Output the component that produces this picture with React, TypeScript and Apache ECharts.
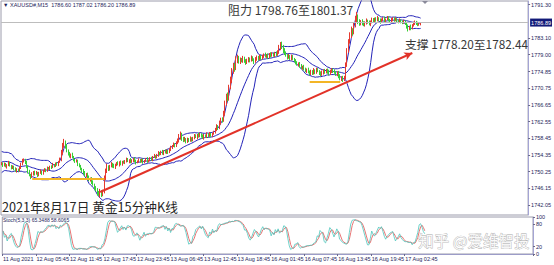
import React, { useEffect, useRef } from "react";
import * as echarts from "echarts";

// ---- data (XAUUSD M15, 11–17 Aug 2021) ----
const PRE_CLOSES = [1750.2, 1750.8, 1751.5, 1752.6, 1753.4, 1754.1, 1753.6, 1754.5, 1755.0, 1754.2, 1753.5, 1752.8, 1753.3, 1752.5, 1751.7, 1752.2, 1751.4, 1750.9, 1751.6];
const FIRST_OPEN = 1752.0;
const CLOSES = [
  1752.3, 1751.8, 1752.1, 1751.5, 1751.9, 1752.4, 1751.7, 1751.2, 1751.5,
  1750.9, 1750.4, 1750.8, 1750.5, 1751.2,
  1752.0, 1752.9, 1753.2, 1752.6,
  1751.5, 1750.3, 1749.4, 1749.0, 1749.6,
  1750.2, 1749.7, 1750.0, 1749.4, 1749.9, 1750.3, 1749.8, 1750.4,
  1750.8, 1750.5, 1751.1, 1750.9, 1751.5, 1751.3, 1751.9, 1751.6, 1752.2, 1752.0, 1752.6, 1753.1,
  1754.8, 1756.6, 1757.4, 1756.5, 1755.4,
  1754.6, 1754.0, 1754.5, 1753.8,
  1753.2, 1752.7, 1752.9, 1752.1, 1751.6, 1751.0, 1750.6,
  1750.0, 1749.3, 1749.7, 1748.8, 1748.2, 1748.6, 1747.7, 1747.1, 1746.4, 1745.8,
  1745.2, 1744.8, 1745.5, 1744.6, 1745.2,
  1748.6, 1750.5, 1751.4, 1750.9,
  1751.6, 1752.2, 1751.7, 1751.3, 1751.9, 1752.4, 1752.0, 1752.5, 1752.1, 1752.7,
  1752.4, 1752.9, 1753.3, 1752.8, 1753.1, 1752.6, 1753.0, 1753.4, 1752.9, 1752.5, 1752.8, 1753.2,
  1752.7, 1753.1, 1752.6, 1752.9, 1753.3, 1752.8, 1753.0, 1753.5, 1753.2, 1753.8, 1754.1, 1753.7,
  1754.3, 1754.9, 1754.5, 1755.1, 1754.7, 1755.3, 1754.9, 1755.4, 1755.0, 1755.6, 1756.1,
  1756.5, 1757.0, 1756.6, 1757.2, 1757.8,
  1758.6, 1759.4, 1758.5, 1757.9, 1758.3, 1757.7, 1758.2, 1757.8, 1758.4, 1758.0,
  1758.6, 1759.1, 1758.7, 1759.3, 1758.9, 1759.5, 1759.0, 1758.6, 1759.2, 1758.8, 1759.4, 1759.0, 1759.6, 1759.1, 1759.5, 1759.9,
  1760.6, 1761.4, 1761.0, 1762.2, 1763.1, 1762.8, 1764.5,
  1766.9, 1768.8, 1768.2, 1770.9, 1772.6,
  1774.8, 1776.3, 1775.6, 1777.4, 1778.2,
  1777.2, 1777.9, 1777.4, 1778.1, 1777.6, 1777.0, 1777.5, 1778.0, 1777.6, 1778.2, 1777.8, 1777.3, 1777.9, 1778.4, 1778.0, 1778.5, 1778.1,
  1778.6, 1779.0, 1778.5, 1778.9, 1778.4, 1779.1, 1778.7, 1779.2, 1778.8, 1779.3, 1778.9, 1779.5,
  1780.6, 1781.5, 1781.0, 1780.1, 1779.4,
  1778.9, 1778.3, 1778.7, 1778.1, 1778.6, 1778.0, 1777.6,
  1777.0, 1776.6, 1776.9, 1776.2, 1775.8, 1776.1, 1775.5, 1775.0, 1775.4, 1774.8, 1774.5,
  1774.9, 1774.4, 1775.2, 1774.7, 1775.4, 1775.0, 1774.5, 1774.1, 1774.6, 1775.1, 1774.7, 1775.3, 1774.8, 1774.3, 1774.9, 1775.4, 1775.0, 1774.6, 1774.2, 1774.7,
  1773.8, 1773.2, 1773.5, 1772.9, 1773.4,
  1776.5, 1779.8, 1782.1, 1783.6,
  1784.9, 1784.4, 1786.2, 1787.6, 1788.4, 1787.3,
  1786.6, 1787.2, 1786.8, 1786.3, 1786.9, 1787.4, 1787.0, 1786.5, 1787.1, 1787.6, 1787.2,
  1787.8, 1787.4, 1788.0, 1787.6, 1787.1, 1787.5, 1787.9, 1787.3, 1787.7, 1788.1, 1787.6, 1787.2, 1787.6, 1787.9,
  1787.4, 1787.8, 1787.3, 1787.0, 1787.5, 1787.1, 1786.8, 1787.2, 1786.7,
  1786.0, 1785.4, 1785.9, 1785.5, 1786.2,
  1786.7, 1787.1, 1786.8, 1786.4, 1786.6, 1786.89,
];
// upper / lower wick lengths, tenths of a dollar
const UP_WICK = [
  3, 2, 4, 3, 2, 5, 3, 2, 3, 2, 4, 3, 2, 3, 4, 5, 3, 2, 3, 2, 4, 3, 5,
  2, 3, 4, 2, 3, 5, 2, 3, 3, 2, 4, 3, 2, 3, 5, 2, 3, 4, 3, 6,
  8, 7, 9, 5, 4, 3, 5, 2, 4, 3, 2, 4, 3, 2, 3, 2,
  3, 4, 2, 3, 5, 2, 3, 4, 2, 3, 4, 3, 5, 2, 6, 7, 5, 8, 4,
  3, 4, 2, 5, 3, 2, 4, 3, 5, 2, 3, 2, 4, 3, 2, 5, 3, 2, 4, 3, 2, 3,
  2, 3, 4, 2, 3, 5, 2, 3, 4, 3, 5, 2, 3, 4, 2, 3, 5, 2, 4, 3, 2, 4, 5,
  3, 4, 2, 5, 6, 9, 7, 4, 3, 5, 2, 4, 3, 5, 3,
  2, 4, 3, 2, 5, 3, 2, 4, 3, 2, 5, 3, 4, 2, 3, 4,
  4, 5, 3, 6, 4, 5, 7, 8, 6, 9, 7, 10, 9, 7, 6, 12, 8,
  5, 4, 3, 6, 4, 3, 5, 4, 3, 6, 4, 3, 5, 4, 3, 5, 4,
  4, 3, 5, 2, 4, 3, 5, 4, 3, 4, 5, 6, 8, 6, 7, 4, 5,
  4, 3, 5, 2, 4, 3, 2, 3, 4, 2, 3, 5, 2, 4, 3, 2, 4, 3,
  4, 3, 5, 2, 4, 3, 2, 4, 5, 3, 4, 2, 3, 5, 4, 3, 2, 4, 3, 2,
  3, 4, 2, 3, 4, 6, 8, 7, 9, 10, 6, 8, 9, 11, 5,
  4, 3, 5, 4, 3, 5, 2, 4, 3, 5, 4, 3, 4, 5, 2, 3, 4, 3, 5, 2, 4, 3, 2, 4, 3,
  3, 4, 2, 3, 4, 2, 3, 4, 2, 3, 4, 2, 5, 3, 4, 3, 2, 3, 4, 1,
];
const DOWN_WICK = [
  2, 4, 3, 2, 5, 3, 2, 4, 3, 3, 2, 4, 3, 2, 3, 2, 4, 5, 4, 5, 3, 6, 3,
  3, 4, 2, 5, 3, 2, 4, 3, 2, 4, 3, 2, 3, 4, 2, 3, 2, 3, 4, 2,
  3, 4, 5, 6, 4, 4, 3, 5, 2, 4, 3, 2, 5, 3, 4, 5,
  4, 3, 5, 6, 3, 4, 5, 3, 6, 4, 8, 5, 9, 6, 4, 3, 4, 6, 5,
  4, 3, 5, 2, 4, 3, 2, 5, 3, 4, 2, 3, 4, 2, 5, 3, 2, 4, 3, 5, 2, 3,
  3, 2, 4, 3, 2, 4, 3, 2, 3, 4, 2, 3, 2, 4, 3, 2, 3, 4, 2, 3, 4, 2, 3,
  3, 2, 4, 3, 2, 4, 5, 7, 4, 3, 5, 4, 3, 2, 4,
  3, 4, 2, 5, 3, 2, 4, 3, 5, 2, 3, 4, 2, 3, 4, 2,
  3, 4, 5, 3, 4, 5, 3, 5, 4, 7, 5, 4, 6, 5, 8, 4, 5,
  4, 5, 3, 4, 6, 5, 3, 4, 5, 3, 4, 6, 3, 4, 5, 3, 4,
  3, 4, 2, 3, 5, 3, 4, 2, 3, 4, 3, 2, 3, 5, 6, 7, 5,
  4, 5, 3, 4, 5, 3, 4, 4, 3, 5, 4, 3, 5, 4, 3, 5, 4, 6,
  5, 4, 3, 5, 4, 3, 5, 4, 3, 5, 4, 3, 5, 4, 3, 4, 5, 3, 4, 5,
  6, 5, 7, 6, 4, 4, 5, 3, 4, 5, 7, 4, 5, 6, 8,
  5, 4, 6, 3, 4, 5, 4, 3, 5, 4, 3, 4, 3, 2, 4, 5, 3, 2, 4, 3, 2, 4, 3, 2, 4,
  3, 2, 4, 3, 2, 4, 3, 2, 4, 6, 7, 4, 5, 3, 3, 4, 5, 4, 3, 4,
];
const TOTAL_SLOTS = 380; // visible bar slots incl. empty right margin
const LABEL_STEP = 24;
const TIME_LABELS = [
  "11 Aug 2021", "12 Aug 05:45", "12 Aug 11:45", "12 Aug 17:45", "12 Aug 23:45",
  "13 Aug 06:45", "13 Aug 12:45", "13 Aug 18:45", "16 Aug 01:45", "16 Aug 07:45",
  "16 Aug 13:45", "16 Aug 19:45", "17 Aug 02:45",
];
const PRICE_TICKS = [1791.3, 1783.1, 1779.0, 1774.85, 1770.75, 1766.65, 1762.55, 1758.45, 1754.35, 1750.25, 1746.15, 1742.05];
const PRICE_MIN = 1739.59;
const PRICE_MAX = 1792.19;
const STOCH_TICKS = [0, 20, 80, 100];
const LAST_PRICE = 1786.89;
const TREND_LINE: [number, number][] = [[71, 1745.25], [296, 1779.41]];
const LEVEL_LINES: [number, number, number][] = [[22, 74, 1748.44], [222, 244, 1772.28]];
const HEADER = "▼ XAUUSD#,M15  1786.60 1787.02 1786.20 1786.89";
const STOCH_TITLE = "Stoch(5,3,3) 65.3488 58.6065";
const RESIST_TEXT = "阻力 1798.76至1801.37";
const SUPPORT_TEXT = "支撑 1778.20至1782.44";
const TITLE_TEXT = "2021年8月17日 黄金15分钟K线";
const WATERMARK = "知乎 @爱维智投";

function buildOhlc() {
  const rows: number[][] = [];
  const highs: number[] = [];
  const lows: number[] = [];
  for (let i = 0; i < CLOSES.length; i++) {
    const o = i === 0 ? FIRST_OPEN : CLOSES[i - 1];
    const c = CLOSES[i];
    const h = +(Math.max(o, c) + (UP_WICK[i] ?? 3) / 10).toFixed(2);
    const l = +(Math.min(o, c) - (DOWN_WICK[i] ?? 3) / 10).toFixed(2);
    rows.push([o, c, l, h]);
    highs.push(h);
    lows.push(l);
  }
  return { rows, highs, lows };
}

function bands(period: number, k: number) {
  const all = [...PRE_CLOSES, ...CLOSES];
  const off = PRE_CLOSES.length;
  const up: number[] = [], mid: number[] = [], lo: number[] = [];
  for (let i = 0; i < CLOSES.length; i++) {
    const end = i + off;
    const start = Math.max(0, end - period + 1);
    const w = all.slice(start, end + 1);
    const m = w.reduce((a, b) => a + b, 0) / w.length;
    const sd = Math.sqrt(w.reduce((a, b) => a + (b - m) * (b - m), 0) / w.length);
    mid.push(+m.toFixed(3));
    up.push(+(m + k * sd).toFixed(3));
    lo.push(+(m - k * sd).toFixed(3));
  }
  return { up, mid, lo };
}

function stoch(highs: number[], lows: number[], kp: number, slow: number, dp: number) {
  const n = CLOSES.length;
  const num: number[] = [], den: number[] = [];
  for (let i = 0; i < n; i++) {
    const s = Math.max(0, i - kp + 1);
    let hh = -Infinity, ll = Infinity;
    for (let j = s; j <= i; j++) { hh = Math.max(hh, highs[j]); ll = Math.min(ll, lows[j]); }
    num.push(CLOSES[i] - ll);
    den.push(hh - ll);
  }
  const main: number[] = [];
  for (let i = 0; i < n; i++) {
    const s = Math.max(0, i - slow + 1);
    let a = 0, b = 0;
    for (let j = s; j <= i; j++) { a += num[j]; b += den[j]; }
    main.push(b > 0 ? +(100 * a / b).toFixed(2) : 50);
  }
  const sig: number[] = [];
  for (let i = 0; i < n; i++) {
    const s = Math.max(0, i - dp + 1);
    let a = 0;
    for (let j = s; j <= i; j++) a += main[j];
    sig.push(+(a / (i - s + 1)).toFixed(2));
  }
  return { main, sig };
}

export default function App() {
  const ref = useRef<HTMLDivElement>(null);
  useEffect(() => {
    if (!ref.current) return;
    const chart = echarts.init(ref.current, undefined, { renderer: "svg" });
    const { rows, highs, lows } = buildOhlc();
    const bb = bands(20, 2);
    const st = stoch(highs, lows, 5, 3, 3);
    const slots = Array.from({ length: TOTAL_SLOTS }, (_, i) => String(i));
    const isLabel = (i: number) => i % LABEL_STEP === 0 && i / LABEL_STEP < TIME_LABELS.length;
    const small = { fontSize: 5.5, color: "#1e1e5a", fontFamily: "Liberation Sans" };
    const bandLine = (data: number[]) => ({
      type: "line", data, xAxisIndex: 0, yAxisIndex: 0, symbol: "none", silent: true,
      lineStyle: { color: "#2323b8", width: 1 }, z: 3,
    });

    chart.setOption({
      animation: false,
      backgroundColor: "#ffffff",
      grid: [
        { left: 1, right: 21, top: 1, height: 214, show: true, borderColor: "#9c9cac", borderWidth: 1 },
        { left: 1, right: 21, top: 217, height: 37, show: true, borderColor: "#9c9cac", borderWidth: 1 },
      ],
      xAxis: [
        {
          type: "category", gridIndex: 0, data: slots, boundaryGap: true,
          axisLine: { show: false }, axisTick: { show: false }, axisLabel: { show: false }, splitLine: { show: false },
        },
        {
          type: "category", gridIndex: 1, data: slots, boundaryGap: true,
          axisLine: { show: true, lineStyle: { color: "#9c9cc8" } },
          axisTick: { show: true, interval: (i: number) => isLabel(i), length: 2, lineStyle: { color: "#6a6a8a" } },
          axisLabel: {
            ...small, interval: (i: number) => isLabel(i), align: "left", margin: 2,
            formatter: (_v: string, i: number) => TIME_LABELS[i / LABEL_STEP] ?? "",
          },
          splitLine: { show: false },
        },
      ],
      yAxis: [
        {
          type: "value", gridIndex: 0, position: "right", min: PRICE_MIN, max: PRICE_MAX, scale: true,
          axisLine: { show: true, lineStyle: { color: "#a4a4d4" } },
          axisTick: { show: true, customValues: PRICE_TICKS, length: 2, lineStyle: { color: "#6a6a8a" } },
          axisLabel: { ...small, customValues: PRICE_TICKS, margin: 3, formatter: (v: number) => v.toFixed(2) },
          splitLine: { show: false },
        },
        {
          type: "value", gridIndex: 1, position: "right", min: 0, max: 100,
          axisLine: { show: true, lineStyle: { color: "#a4a4d4" } },
          axisTick: { show: true, customValues: STOCH_TICKS, length: 2, lineStyle: { color: "#6a6a8a" } },
          axisLabel: { ...small, customValues: STOCH_TICKS, margin: 3 },
          splitLine: { show: false },
        },
      ],
      series: [
        bandLine(bb.up),
        bandLine(bb.mid),
        bandLine(bb.lo),
        {
          type: "candlestick", data: rows, xAxisIndex: 0, yAxisIndex: 0, barWidth: 0.6, z: 4,
          itemStyle: { color: "#e53a30", color0: "#36d036", borderColor: "#e53a30", borderColor0: "#36d036", borderWidth: 1 },
          markLine: {
            silent: true, symbol: "none", animation: false,
            data: [
              {
                yAxis: LAST_PRICE, symbol: "none",
                lineStyle: { color: "#bdbdbd", width: 1, type: "solid" },
                label: {
                  show: true, position: "end", formatter: LAST_PRICE.toFixed(2), distance: 2,
                  color: "#ffffff", backgroundColor: "#121a78", fontSize: 5.5, padding: [1, 1, 1, 1],
                  fontFamily: "Liberation Sans",
                },
              },
              [
                { coord: TREND_LINE[0], symbol: "none", lineStyle: { color: "#e23228", width: 2, type: "solid" }, label: { show: false } },
                { coord: TREND_LINE[1], symbol: "arrow", symbolSize: [6, 8] },
              ],
              ...LEVEL_LINES.map(([a, b, p]) => [
                { coord: [a, p], symbol: "none", lineStyle: { color: "#f3b526", width: 2, type: "solid" }, label: { show: false } },
                { coord: [b, p], symbol: "none" },
              ]),
            ],
          },
        },
        {
          type: "line", data: st.sig, xAxisIndex: 1, yAxisIndex: 1, symbol: "none", silent: true,
          lineStyle: { color: "#e87474", width: 1 },
        },
        {
          type: "line", data: st.main, xAxisIndex: 1, yAxisIndex: 1, symbol: "none", silent: true,
          lineStyle: { color: "#4cc6bc", width: 0.8 },
        },
      ],
      graphic: [
        { type: "text", left: 3, top: 2, silent: true, style: { text: HEADER, fill: "#1e1e5a", font: "5.5px 'Liberation Sans'" } },
        { type: "text", left: 3, top: 217.5, silent: true, style: { text: STOCH_TITLE, fill: "#1e1e5a", font: "5px 'Liberation Sans'" } },
        { type: "polygon", silent: true, shape: { points: [[422, 1], [428, 1], [425, 4]] }, style: { fill: "#8a8a9a" } },
        { type: "text", left: 228, top: 3, silent: true, style: { text: RESIST_TEXT, fill: "#383838", font: "12px 'Noto Sans CJK SC'" } },
        { type: "text", left: 405, top: 38, silent: true, style: { text: SUPPORT_TEXT, fill: "#383838", font: "11.8px 'Noto Sans CJK SC'" } },
        { type: "text", left: 2, top: 200, silent: true, style: { text: TITLE_TEXT, fill: "#262626", font: "12.7px 'Noto Sans CJK SC'" } },
        {
          type: "text", left: 418, top: 232, silent: true, z: 100,
          style: { text: WATERMARK, fill: "rgba(255,255,255,0.9)", stroke: "#a9a9a9", lineWidth: 0.7, font: "15.5px 'Noto Sans CJK SC'" },
        },
      ],
    });
    return () => chart.dispose();
  }, []);
  return <div ref={ref} style={{ position: "fixed", left: 0, top: 0, width: 554, height: 265 }} />;
}
